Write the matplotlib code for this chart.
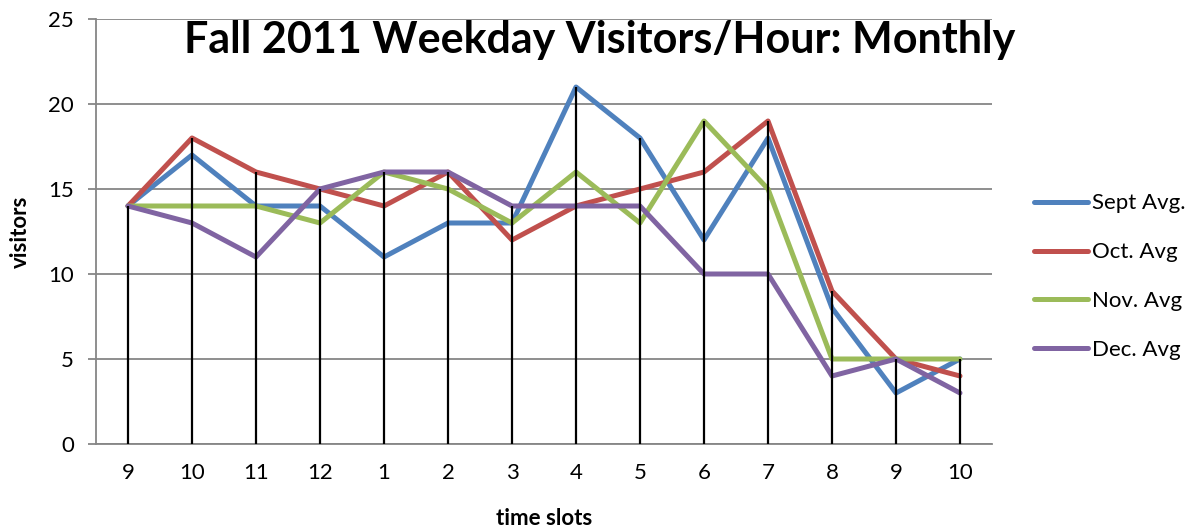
import matplotlib
matplotlib.use("Agg")
import matplotlib.pyplot as plt
import numpy as np

plt.rcParams['font.family'] = ['Lato', 'DejaVu Sans']

time_slots = ["9", "10", "11", "12", "1", "2", "3", "4", "5", "6", "7", "8", "9", "10"]
sept_avg = [14, 17, 14, 14, 11, 13, 13, 21, 18, 12, 18, 8, 3, 5]
oct_avg = [14, 18, 16, 15, 14, 16, 12, 14, 15, 16, 19, 9, 5, 4]
nov_avg = [14, 14, 14, 13, 16, 15, 13, 16, 13, 19, 15, 5, 5, 5]
dec_avg = [14, 13, 11, 15, 16, 16, 14, 14, 14, 10, 10, 4, 5, 3]

series = [
    ("Sept Avg.", sept_avg, "#4F81BD"),
    ("Oct. Avg", oct_avg, "#C0504D"),
    ("Nov. Avg", nov_avg, "#9BBB59"),
    ("Dec. Avg", dec_avg, "#8064A2"),
]

fig = plt.figure(figsize=(11.99, 5.32), dpi=100)
ax = fig.add_axes([96/1199, 1-444/532, 896/1199, 425/532])

x = np.arange(len(time_slots))
for name, vals, col in series:
    ax.plot(x, vals, color=col, lw=3.6, label=name, solid_capstyle='round',
            solid_joinstyle='round', zorder=3)

tops = np.max(np.array([s[1] for s in series]), axis=0)
ax.vlines(x, 0, tops, colors='black', lw=1.6, zorder=4)

ax.set_xlim(-0.5, len(time_slots) - 0.5)
ax.set_ylim(0, 25)
ax.set_yticks([0, 5, 10, 15, 20, 25])
ax.set_xticks(x)
ax.set_xticklabels(time_slots)
ax.grid(axis='y', color='#868686', lw=1.3, zorder=0)
ax.set_axisbelow(True)
for s in ['top', 'right']:
    ax.spines[s].set_visible(False)
for s in ['left', 'bottom']:
    ax.spines[s].set_color('#868686')
    ax.spines[s].set_linewidth(1.3)
ax.tick_params(axis='y', colors='#868686', length=6, width=1.3, labelsize=16,
               labelcolor='black', pad=10)
ax.tick_params(axis='x', length=0, labelsize=16, labelcolor='black', pad=14)

ax.set_ylabel("visitors", fontsize=16, fontweight='bold', labelpad=12)
ax.set_xlabel("time slots", fontsize=16, fontweight='bold', labelpad=18)

fig.text(600/1199, 1-40/532, "Fall 2011 Weekday Visitors/Hour: Monthly",
         ha='center', va='center', fontsize=31, fontweight='bold')

leg = fig.legend(loc='upper left', bbox_to_anchor=(1030/1199, 1-189/532),
                 frameon=False, fontsize=16, handlelength=2.4, handletextpad=0.2,
                 labelspacing=1.3, borderaxespad=0, borderpad=0.2)
for h in leg.get_lines():
    h.set_linewidth(3.6)

fig.savefig("out.png", dpi=100)
